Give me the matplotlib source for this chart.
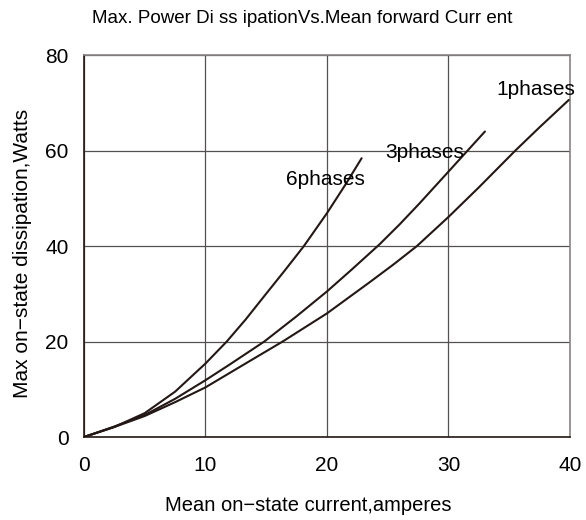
import matplotlib
matplotlib.use("Agg")
import matplotlib.pyplot as plt

plt.rcParams['font.family'] = ['Liberation Sans', 'DejaVu Sans']

x6 = [0, 2.5, 5, 7.5, 10, 11.75, 13.3, 14.8, 16.5, 18.1, 20, 21.5, 22.85]
y6 = [0, 2.1, 5.0, 9.5, 15.4, 20, 24.6, 29.4, 34.8, 40, 46.9, 52.8, 58.4]
x3 = [0, 2.5, 5, 7.5, 10, 12, 14.84, 17.5, 20, 22, 24.3, 26, 27.6, 30, 31.5, 33]
y3 = [0, 2.2, 4.6, 8.0, 11.9, 15.2, 20, 25.3, 30.5, 35.0, 40.3, 44.6, 48.9, 55.6, 59.8, 64.0]
x1 = [0, 2.5, 5, 7.5, 10, 13.3, 16.35, 20, 23.5, 25.5, 27.4, 30, 32.5, 35.5, 37.5, 39.9]
y1 = [0, 2.1, 4.4, 7.3, 10.4, 15.4, 20, 25.9, 32.4, 36.2, 40, 46.1, 52.3, 60, 64.9, 70.6]

labels = ["6phases", "3phases", "1phases"]
label_pos = [(19.9, 53.9), (28.0, 59.7), (37.2, 72.9)]

fig = plt.figure(figsize=(5.86, 5.20), dpi=100)
ax = fig.add_axes([0.1433, 0.1596, 0.8294, 0.7344])

col = '#231815'
for xs, ys in [(x6, y6), (x3, y3), (x1, y1)]:
    ax.plot(xs, ys, color=col, lw=1.5, solid_joinstyle='round',
            solid_capstyle='round', zorder=3)

for lab, (px, py) in zip(labels, label_pos):
    ax.text(px, py, lab, ha='center', va='center', fontsize=15, color='black', zorder=4)

ax.set_xlim(0, 40)
ax.set_ylim(0, 80)
ax.set_xticks([0, 10, 20, 30, 40])
ax.set_yticks([0, 20, 40, 60, 80])
ax.grid(True, color='#555050', lw=0.9)
ax.tick_params(length=0, labelsize=15)
ax.tick_params(axis='x', pad=14)
ax.tick_params(axis='y', pad=11)
for s in ['left', 'bottom']:
    ax.spines[s].set_color('#231815')
    ax.spines[s].set_linewidth(1.2)
for s in ['top', 'right']:
    ax.spines[s].set_color('#8a8585')
    ax.spines[s].set_linewidth(1.2)

fig.text(0.5256, 0.027, "Mean on\u2212state current,amperes",
         ha='center', va='center', fontsize=14.5)
fig.text(0.039, 0.513, "Max on\u2212state dissipation,Watts",
         ha='center', va='center', rotation=90, fontsize=15)
fig.text(0.515, 0.965, "Max. Power Di ss ipationVs.Mean forward Curr ent",
         ha='center', va='center', fontsize=13.5)

fig.savefig("out.png", dpi=100)
